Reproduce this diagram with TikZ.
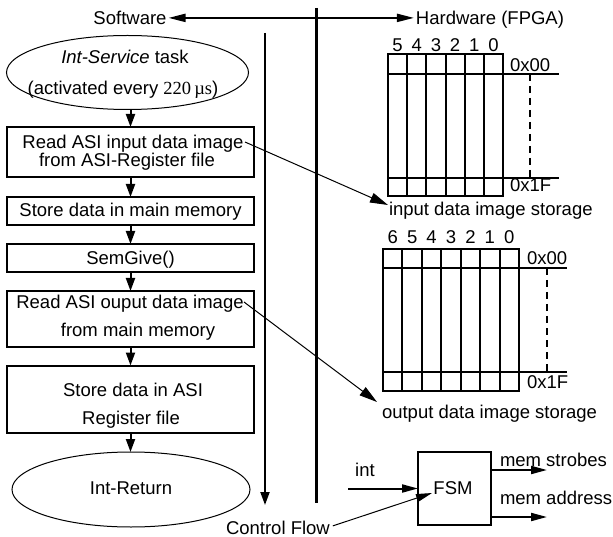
\documentclass[tikz,border=0pt]{standalone}
\usepackage{fontspec}
\setmainfont{Liberation Sans}
\newfontfamily\unitfont{Liberation Serif}
\usetikzlibrary{arrows.meta,shapes.geometric}

\begin{document}
\begin{tikzpicture}[x=1pt,y=-1pt,
  every node/.style={font=\fontsize{18.5}{22}\selectfont, inner sep=0pt, outer sep=0pt},
  txt/.style={anchor=base, yshift=-6.5pt},
  txtw/.style={anchor=base west, yshift=-6.5pt},
  stepbox/.style={draw, line width=2pt, minimum width=247pt},
  oval/.style={draw, ellipse, line width=1pt, inner sep=0pt},
  flow/.style={line width=2pt, -{Triangle[length=13pt,width=9pt]}},
  link/.style={line width=1pt, -{Triangle[length=18pt,width=10pt]}},
  sig/.style={line width=2pt, -{Triangle[length=16pt,width=8pt]}},
  grid/.style={line width=2pt},
  gap/.style={line width=2pt, dash pattern=on 7pt off 5pt}
]
\useasboundingbox (0,0) rectangle (613,537);

% header: software / hardware split
\node[txt] (sw) at (130,18) {Software};
\node[txt] (hw) at (490,18) {Hardware (FPGA)};
\draw[line width=2pt, {Triangle[length=17pt,width=8pt]}-{Triangle[length=17pt,width=8pt]}]
  ([xshift=2pt]sw.east) -- ([xshift=-2pt]sw.east -| hw.west);
\coordinate (divtop) at (316,8);
\coordinate (divbot) at (316,503);
\draw[line width=3pt] (divtop) -- (divbot);
\coordinate (cftop) at (265,33);
\coordinate (cfbot) at (265,505);
\draw[line width=2pt, -{Triangle[length=13pt,width=9pt]}] (cftop) -- (cfbot);

% software flow
\node[oval, minimum width=242pt, minimum height=74pt] (e1) at (127.5,72.5) {};
\node[txt] (e1a) at (125,57) {\itshape Int-Service\upshape{} task};
\node[txt] (e1b) at (123,88) {(activated every {\unitfont 220\,µs})};

\node[stepbox, minimum height=50pt] (b1) at (130.5,152) {};
\node[txt] (b1a) at (133,142) {Read ASI input data image};
\node[txt] (b1b) at (127,160) {from ASI-Register file};

\node[stepbox, minimum height=28pt] (b2) at (130.5,211) {};
\node[txt] (b2a) at (130.5,210) {Store data in main memory};

\node[stepbox, minimum height=28pt] (b3) at (130.5,258) {};
\node[txt] (b3a) at (130.5,258) {SemGive()};

\node[stepbox, minimum height=56pt] (b4) at (130.5,319) {};
\node[txt] (b4a) at (130,302) {Read ASI ouput data image};
\node[txt] (b4b) at (138,330) {from main memory};

\node[stepbox, minimum height=67pt] (b5) at (130.5,399) {};
\node[txt] (b5a) at (133,390) {Store data in ASI};
\node[txt] (b5b) at (131,418) {Register file};

\node[oval, minimum width=238pt, minimum height=75pt] (e2) at (131,489.5) {};
\node[txt] (e2a) at (131,488) {Int-Return};

\draw[flow] (e1.south -| b1.north) -- (b1.north);
\draw[flow] (b1) -- (b2);
\draw[flow] (b2) -- (b3);
\draw[flow] (b3) -- (b4);
\draw[flow] (b4) -- (b5);
\draw[flow] (b5.south) -- (b5.south |- e2.north);

% input data image storage
\draw[grid] (388,54) rectangle (503,196);
\foreach \i in {1,...,5} \draw[grid] ({388+\i*115/6},54) -- ({388+\i*115/6},196);
\draw[grid] (388,74) -- (559,74);
\draw[grid] (388,178) -- (559,178);
\draw[gap] (530,74) -- (530,178);
\foreach \d [count=\i from 0] in {5,4,3,2,1,0}
  \node[txt] (in\d) at ({388+(\i+0.5)*115/6},45) {\d};
\node[txtw] (inA) at (510,65) {0x00};
\node[txtw] (inB) at (510,185) {0x1F};
\node[txtw] (inlbl) at (389,209) {input data image storage};

% output data image storage
\draw[grid] (383,249) rectangle (519,391);
\foreach \i in {1,...,6} \draw[grid] ({383+\i*136/7},249) -- ({383+\i*136/7},391);
\draw[grid] (383,268) -- (567,268);
\draw[grid] (383,372) -- (567,372);
\draw[gap] (547,268) -- (547,372);
\foreach \d [count=\i from 0] in {6,5,4,3,2,1,0}
  \node[txt] (out\d) at ({383+(\i+0.5)*136/7},237) {\d};
\node[txtw] (outA) at (527,258) {0x00};
\node[txtw] (outB) at (527,382) {0x1F};
\node[txtw] (outlbl) at (382,412) {output data image storage};

% data transfers between software and storage
\coordinate (s1) at (245,142);
\coordinate (t1) at (388,205);
\draw[link] (s1) -- (t1);
\coordinate (s2) at (244,302);
\coordinate (t2) at (377,402);
\draw[link] (s2) -- (t2);

% FSM
\node[draw, line width=2pt, minimum width=73pt, minimum height=73pt] (fsm) at (454.5,488.5) {};
\node[txt] (fsmt) at (453,488) {FSM};
\coordinate (intin) at (348,488.5);
\node[txt] (intl) at (365,470) {int};
\draw[sig] (intin) -- (fsm.west);
\coordinate (ms) at (547,470);
\coordinate (ma) at (547,517);
\draw[sig] (fsm.east |- ms) -- (ms);
\draw[sig] (fsm.east |- ma) -- (ma);
\node[txtw] (msl) at (500,460) {mem strobes};
\node[txtw] (mal) at (500,498) {mem address};

\node[txtw] (cf) at (226,528) {Control Flow};
\coordinate (cftip) at (432,493);
\draw[line width=1pt, -{Triangle[length=16pt,width=8pt]}] ([xshift=3pt,yshift=2pt]cf.east) -- (cftip);
\end{tikzpicture}
\end{document}
